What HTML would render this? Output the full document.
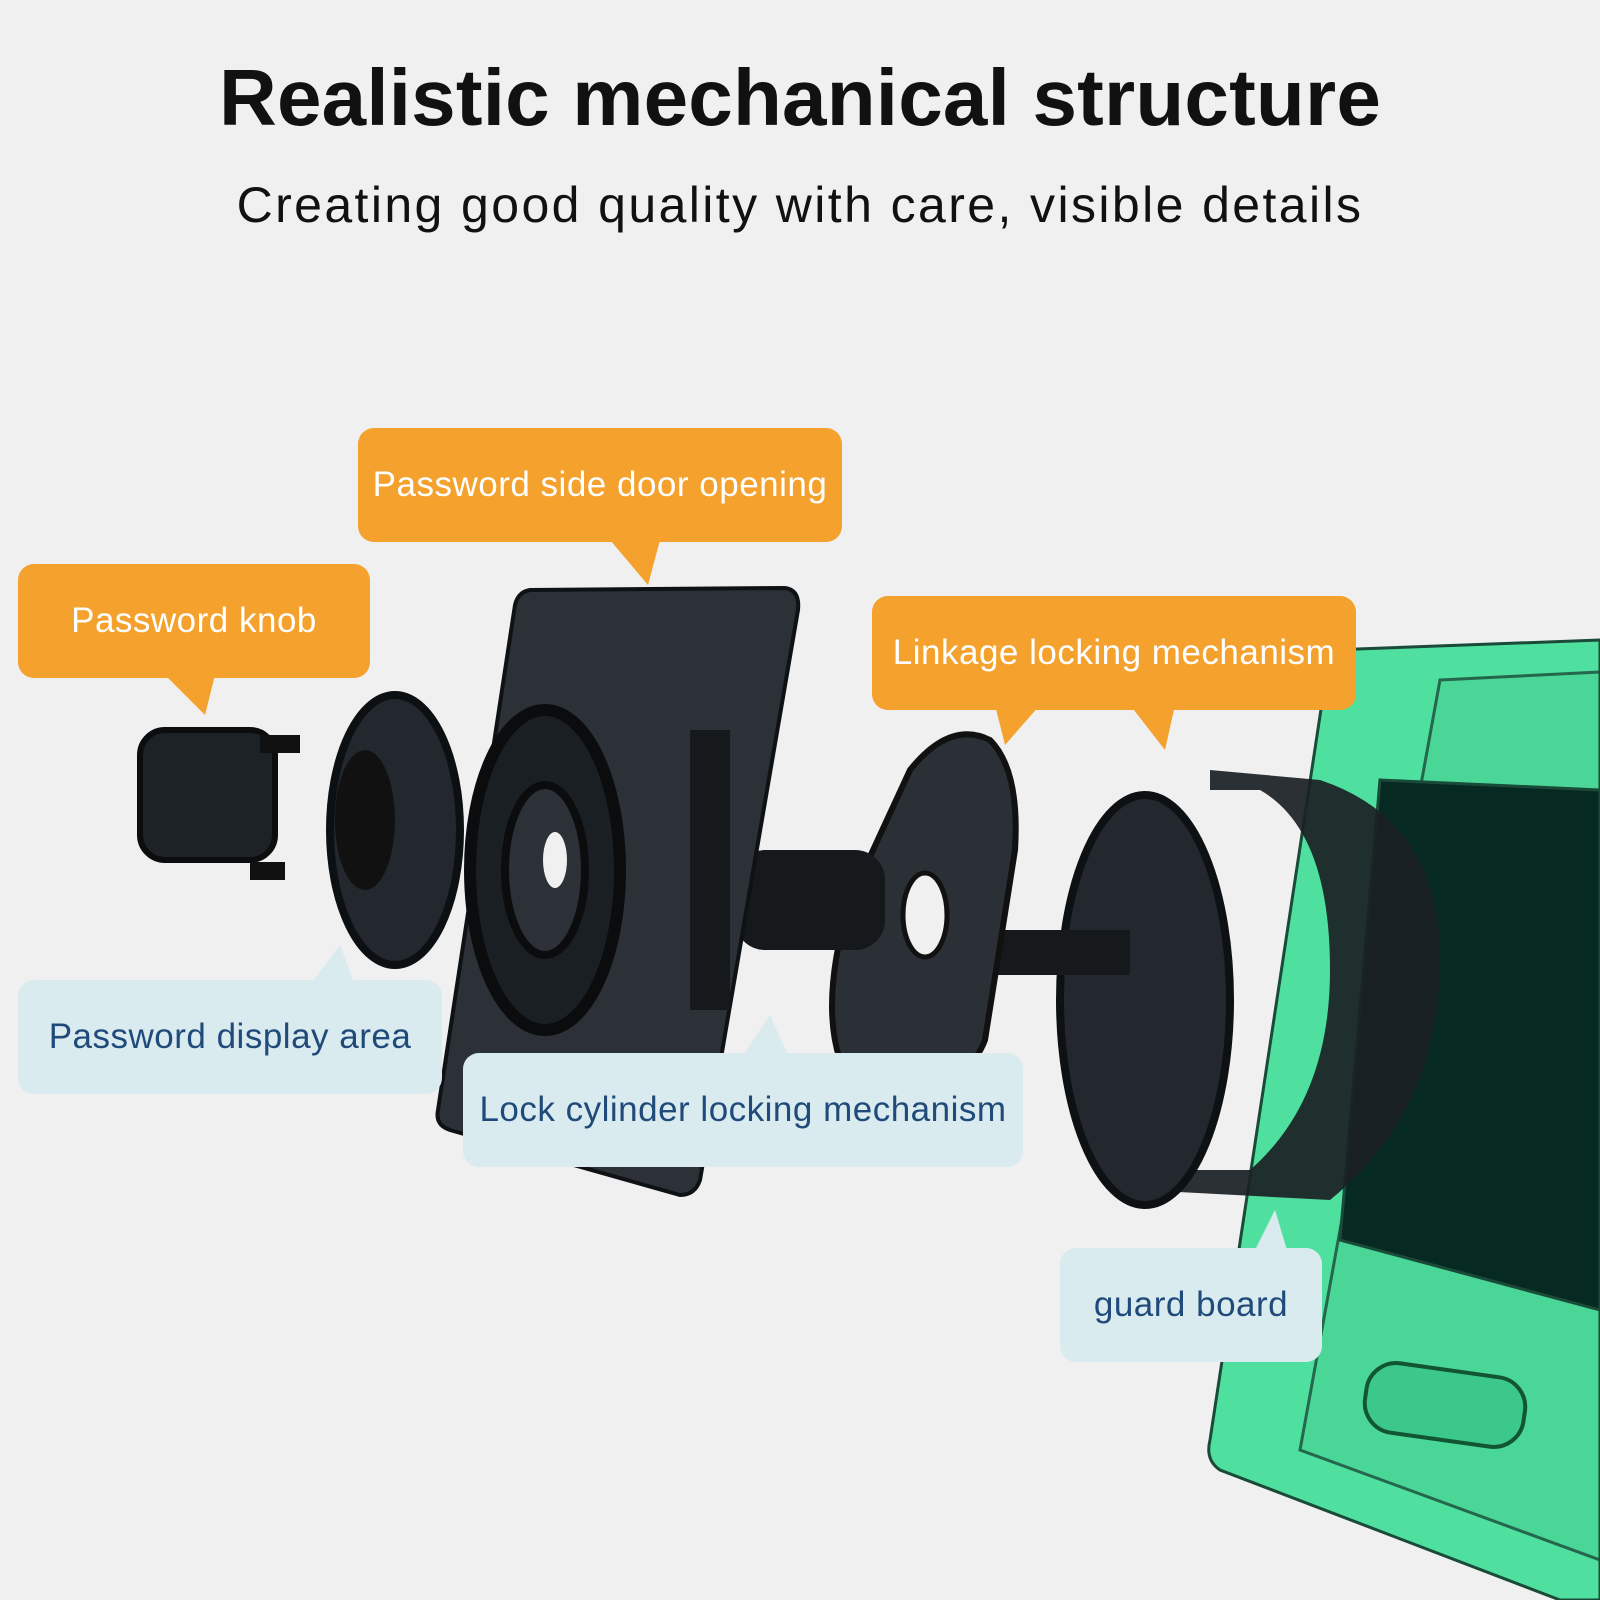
<!DOCTYPE html>
<html><head><style>
html,body{margin:0;padding:0;background:#f0f0f0;}
body{width:1600px;height:1600px;position:relative;overflow:hidden;font-family:"Liberation Sans","DejaVu Sans",sans-serif;}
h1{position:absolute;top:52px;left:0;width:1600px;text-align:center;margin:0;font-size:80px;font-weight:bold;color:#111;letter-spacing:0.2px;}
.sub{position:absolute;top:176px;left:0;width:1600px;text-align:center;font-size:50px;color:#111;letter-spacing:2.4px;}
.lab{position:absolute;font-size:35px;display:flex;align-items:center;justify-content:center;border-radius:16px;letter-spacing:0.5px;}
.o{background:#f4a12e;color:#fff;}
.b{background:#d9ebef;color:#1f4a7a;}
svg{position:absolute;left:0;top:0;}
</style></head><body>
<svg width="1600" height="1600" viewBox="0 0 1600 1600">
<path d="M1330 650 L1600 640 L1600 1600 L1560 1600 L1220 1470 Q1205 1460 1210 1440 Z" fill="#4fe0a0" stroke="#1a4a38" stroke-width="3"/>
<path d="M1440 680 L1600 672 L1600 1560 L1300 1450 Z" fill="#48d495" stroke="#1a4a38" stroke-width="3" opacity="0.8"/>
<path d="M1380 780 L1600 790 L1600 1310 L1340 1240 Z" fill="#062a22" stroke="#1a4a38" stroke-width="3"/>
<rect x="1365" y="1370" width="160" height="70" rx="30" transform="rotate(8 1445 1405)" fill="#3cc88a" stroke="#153" stroke-width="4"/>
<path d="M1210 770 L1320 780 Q1440 820 1440 960 Q1440 1110 1330 1200 L1140 1190 L1140 1170 L1250 1170 Q1330 1100 1330 970 Q1330 830 1260 790 L1210 790 Z" fill="#1a1f24" opacity="0.92"/>
<ellipse cx="1145" cy="1000" rx="85" ry="205" fill="#22282d" stroke="#0e1114" stroke-width="8"/>
<rect x="990" y="930" width="140" height="45" fill="#15191c"/>
<path d="M910 770 Q950 720 990 740 Q1020 770 1015 850 L985 1040 Q970 1080 930 1070 L840 1060 Q820 1000 850 900 Z" fill="#2a3035" stroke="#111" stroke-width="6"/>
<ellipse cx="925" cy="915" rx="22" ry="42" fill="#f0f0f0" stroke="#111" stroke-width="5"/>
<rect x="735" y="850" width="150" height="100" rx="30" fill="#15191c"/>
<path d="M530 590 L785 588 Q800 590 798 610 L700 1180 Q695 1195 680 1195 L450 1130 Q435 1125 438 1110 L515 605 Q518 592 530 590 Z" fill="#2b3136" stroke="#0f1215" stroke-width="4"/>
<ellipse cx="545" cy="870" rx="75" ry="160" fill="#1a1f23" stroke="#0a0c0e" stroke-width="12"/>
<ellipse cx="545" cy="870" rx="40" ry="85" fill="#2b3136" stroke="#0a0c0e" stroke-width="8"/>
<ellipse cx="555" cy="860" rx="12" ry="28" fill="#f0f0f0"/>
<rect x="690" y="730" width="40" height="280" fill="#15191c"/>
<ellipse cx="395" cy="830" rx="65" ry="135" fill="#22282d" stroke="#0d1012" stroke-width="8"/>
<ellipse cx="365" cy="820" rx="30" ry="70" fill="#111" />
<rect x="140" y="730" width="135" height="130" rx="25" fill="#1c2226" stroke="#0b0d0f" stroke-width="6"/>
<rect x="260" y="735" width="40" height="18" fill="#111"/>
<rect x="250" y="862" width="35" height="18" fill="#111"/>
<polygon points="165,675 215,675 205,715" fill="#f4a12e"/>
<polygon points="610,540 660,540 648,585" fill="#f4a12e"/>
<polygon points="995,705 1040,705 1005,745" fill="#f4a12e"/>
<polygon points="1130,705 1175,705 1165,750" fill="#f4a12e"/>
<polygon points="310,985 355,985 340,945" fill="#d9ebef"/>
<polygon points="740,1060 790,1060 770,1015" fill="#d9ebef"/>
<polygon points="1250,1260 1290,1260 1275,1210" fill="#d9ebef"/>
</svg>
<h1>Realistic mechanical structure</h1>
<div class="sub">Creating good quality with care, visible details</div>
<div class="lab o" style="left:358px;top:428px;width:484px;height:114px;">Password side door opening</div>
<div class="lab o" style="left:18px;top:564px;width:352px;height:114px;">Password knob</div>
<div class="lab o" style="left:872px;top:596px;width:484px;height:114px;">Linkage locking mechanism</div>
<div class="lab b" style="left:18px;top:980px;width:424px;height:114px;">Password display area</div>
<div class="lab b" style="left:463px;top:1053px;width:560px;height:114px;">Lock cylinder locking mechanism</div>
<div class="lab b" style="left:1060px;top:1248px;width:262px;height:114px;">guard board</div>
</body></html>
